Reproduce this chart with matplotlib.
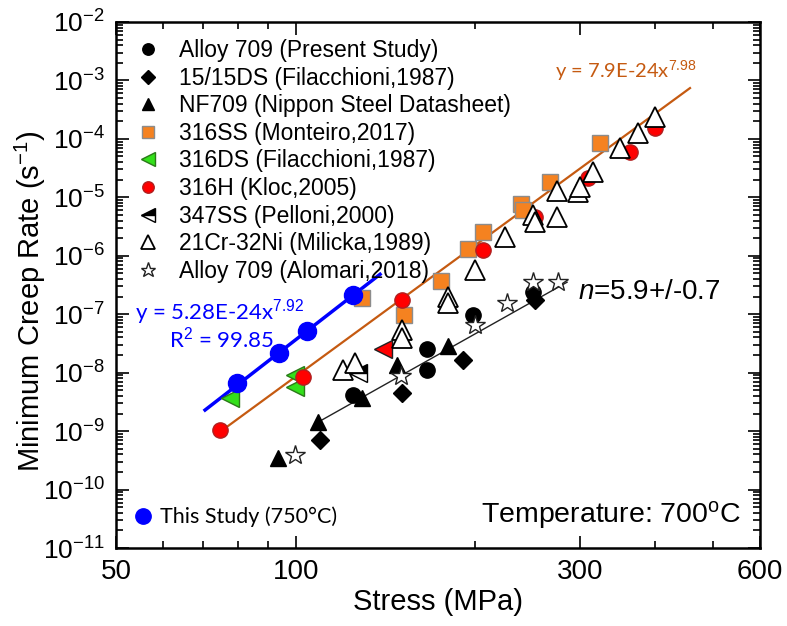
import matplotlib
matplotlib.use('Agg')
import matplotlib.pyplot as plt
from matplotlib.ticker import FixedLocator, NullFormatter, LogLocator, LogFormatterMathtext
import numpy as np

plt.rcParams['font.family'] = ['Liberation Sans', 'DejaVu Sans']
plt.rcParams['mathtext.fontset'] = 'custom'
plt.rcParams['mathtext.rm'] = 'Liberation Sans'
plt.rcParams['mathtext.it'] = 'Liberation Sans:italic'

# ---- data (stress MPa, minimum creep rate 1/s) ----
a709_x = [124.8, 166.0, 166.0, 198.3, 250.0]
a709_y = [4.1e-9, 2.5e-8, 1.1e-8, 9.6e-8, 2.4e-7]

ds1515_x = [109.9, 150.7, 190.8, 251.5]
ds1515_y = [6.95e-10, 4.4e-9, 1.63e-8, 1.74e-7]

nf709_x = [93.4, 109.0, 129.2, 147.9, 180.0]
nf709_y = [3.4e-10, 1.42e-9, 3.65e-9, 1.34e-8, 2.83e-8]

ss316_x = [129.2, 151.9, 175.2, 194.5, 206.1, 238.6, 240.5, 266.9, 323.6]
ss316_y = [1.88e-7, 9.6e-8, 3.67e-7, 1.3e-6, 2.54e-6, 7.65e-6, 6.04e-6, 1.82e-5, 8.5e-5]

ds316_x = [77.6, 99.7, 99.7]
ds316_y = [3.65e-9, 9.0e-9, 5.6e-9]

h316_x = [74.7, 102.9, 151.0, 206.1, 251.8, 309.0, 363.4, 400.2]
h316_y = [1.03e-9, 8.3e-9, 1.74e-7, 1.25e-6, 4.58e-6, 2.13e-5, 5.94e-5, 1.53e-4]

red_tri_x = [140.1]
red_tri_y = [2.52e-8]

ss347_x = [127.2]
ss347_y = [9.8e-9]

cr21_x = [120.1, 125.7, 150.7, 150.7, 180.0, 180.0, 199.8, 224.3, 249.9, 251.8,
          274.1, 274.1, 297.3, 299.6, 315.0, 349.6, 374.8, 400.2]
cr21_y = [1.1e-8, 1.45e-8, 5.3e-8, 3.9e-8, 1.95e-7, 1.54e-7, 5.67e-7, 2.08e-6, 4.96e-6, 3.76e-6,
          4.58e-6, 1.28e-5, 1.23e-5, 1.5e-5, 2.7e-5, 6.95e-5, 1.26e-4, 2.36e-4]

alomari_x = [99.7, 150.2, 199.8, 226.1, 249.9, 275.2]
alomari_y = [3.85e-10, 8.7e-9, 6.5e-8, 1.54e-7, 3.53e-7, 3.53e-7]

study_x = [79.8, 93.8, 104.5, 124.8]
study_y = [6.6e-9, 2.15e-8, 5.1e-8, 2.1e-7]

# fit lines
blue_A, blue_n = 5.28e-24, 7.92
blue_fit_x = [70.5, 138.5]
orange_fit_x = [75.0, 458.0]
orange_fit_y = [1.0e-9, 7.4e-4]
black_fit_x = [109.0, 285.0]
black_fit_y = [1.42e-9, 3.53e-7]

fig = plt.figure(figsize=(7.87, 6.26), dpi=100)
ax = fig.add_axes([0.1474, 0.1246, 0.8183, 0.8403])
ax.set_xscale('log')
ax.set_yscale('log')

# lines
bx = np.array(blue_fit_x)
ax.plot(bx, blue_A * bx ** blue_n, color='#0000FF', lw=2.5, zorder=2)
ax.plot(orange_fit_x, orange_fit_y, color='#C55A11', lw=1.6, zorder=2)
ax.plot(black_fit_x, black_fit_y, color='#222222', lw=1.0, zorder=2)

ms = 11
h1, = ax.plot(a709_x, a709_y, 'o', color='black', ms=ms, label='Alloy 709 (Present Study)')
h2, = ax.plot(ds1515_x, ds1515_y, 'D', color='black', ms=ms - 1.5, label='15/15DS (Filacchioni,1987)')
h3, = ax.plot(nf709_x, nf709_y, '^', color='black', ms=ms + 1, label='NF709 (Nippon Steel Datasheet)')
h4, = ax.plot(ss316_x, ss316_y, 's', mfc='#F58220', mec='#8C8C8C', ms=ms, label='316SS (Monteiro,2017)')
h5, = ax.plot(ds316_x, ds316_y, '<', mfc='#33E01A', mec='#2A7A18', ms=ms + 2, label='316DS (Filacchioni,1987)')
h6, = ax.plot(h316_x, h316_y, 'o', mfc='#FF0000', mec='#B02020', ms=ms, label='316H (Kloc,2005)')
ax.plot(red_tri_x, red_tri_y, '<', mfc='#FF0000', mec='#202020', ms=ms + 2)
h7, = ax.plot(ss347_x, ss347_y, '<', color='black', mfc='black', mfcalt='white', fillstyle='top',
              ms=ms + 2, label='347SS (Pelloni,2000)')
h8, = ax.plot(cr21_x, cr21_y, '^', mfc='white', mec='black', mew=1.3, ms=ms + 3, label='21Cr-32Ni (Milicka,1989)')
h9, = ax.plot(alomari_x, alomari_y, '*', mfc='white', mec='#222222', mew=1.0, ms=ms + 4,
              label='Alloy 709 (Alomari,2018)')
hb, = ax.plot(study_x, study_y, 'o', color='#0000FF', ms=ms + 2, zorder=5)

ax.set_xlim(50, 600)
ax.set_ylim(1e-11, 1e-2)

# ticks
ax.xaxis.set_major_locator(FixedLocator([50, 100, 300, 600]))
ax.xaxis.set_major_formatter(plt.FuncFormatter(lambda v, p: f'{v:g}'))
ax.xaxis.set_minor_locator(FixedLocator([60, 70, 80, 90, 200, 400, 500]))
ax.xaxis.set_minor_formatter(NullFormatter())
ax.yaxis.set_major_locator(LogLocator(base=10, numticks=20))
ax.yaxis.set_major_formatter(LogFormatterMathtext())
ax.yaxis.set_minor_locator(LogLocator(base=10, subs=np.arange(2, 10), numticks=20))
ax.yaxis.set_minor_formatter(NullFormatter())
ax.tick_params(which='both', direction='in', top=True, right=True, width=1.2)
ax.tick_params(which='major', length=9, pad=8)
ax.tick_params(axis='x', which='major', labelsize=20)
ax.tick_params(axis='y', which='major', labelsize=19)
ax.tick_params(which='minor', length=5)
for s in ax.spines.values():
    s.set_linewidth(1.8)

ax.set_xlabel('Stress (MPa)', fontsize=21, labelpad=2)
ax.set_ylabel('Minimum Creep Rate (s$^{-1}$)', fontsize=21)
ax.yaxis.set_label_coords(-0.105, 0.47)

leg1 = ax.legend(handles=[h1, h2, h3, h4, h5, h6, h7, h8, h9], loc='upper left',
                 bbox_to_anchor=(0.0, 1.0), frameon=False, fontsize=16.5,
                 labelspacing=0.2, handletextpad=0.7, markerscale=0.75,
                 handlelength=1.3, borderaxespad=0.35)
ax.add_artist(leg1)
ax.legend(handles=[hb], labels=['This Study (750°C)'], loc='lower left', frameon=False,
          prop={'family': 'Lato', 'size': 15.5}, handletextpad=0.3, handlelength=1.0,
          bbox_to_anchor=(-0.005, 0.003), markerscale=0.85)

ax.text(0.682, 0.907, 'y = 7.9E-24x$^{7.98}$', transform=ax.transAxes, color='#C55A11',
        fontsize=14.5, family='Lato', va='center')
ax.text(0.029, 0.449, 'y = 5.28E-24x$^{7.92}$', transform=ax.transAxes, color='#0000FF',
        fontsize=16, family='Lato', va='center')
ax.text(0.083, 0.398, 'R$^{2}$ = 99.85', transform=ax.transAxes, color='#0000FF',
        fontsize=16, family='Lato', va='center')
ax.text(0.718, 0.487, '$n$=5.9+/-0.7', transform=ax.transAxes, fontsize=20, va='center')
ax.text(0.97, 0.063, 'Temperature: 700$^{\\rm o}$C', transform=ax.transAxes, fontsize=20.5,
        ha='right', va='center')

fig.savefig('out.png', dpi=100)
